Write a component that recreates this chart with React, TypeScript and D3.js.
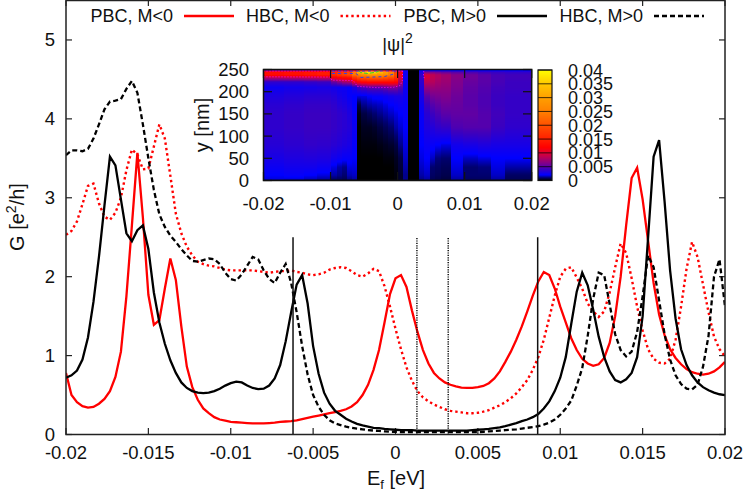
import React from "react";
import * as d3 from "d3";

const W = 747, H = 491;
const FONT = "'Liberation Sans', Arial, sans-serif";

const xTicks = [-0.02, -0.015, -0.01, -0.005, 0, 0.005, 0.01, 0.015, 0.02];
const xTickLabels = ["-0.02", "-0.015", "-0.01", "-0.005", "0", "0.005", "0.01", "0.015", "0.02"];
const yTicks = [0, 1, 2, 3, 4, 5];
const vSolid = [-0.00622, 0.00863];
const vDotted = [0.0013, 0.0032];

const pbcMinus = [
  .78,.5,.41,.36,.34,.35,.39,.45,.55,.73,
  1.05,1.75,2.65,3.57,2.75,1.77,1.39,1.45,1.85,2.23,
  1.96,1.37,.86,.60,.44,.33,.27,.22,.19,.175,
  .16,.155,.15,.145,.14,.14,.14,.145,.15,.16,
  .165,.17,.18,.195,.21,.225,.24,.255,.27,.285,
  .30,.32,.355,.41,.50,.63,.82,1.07,1.42,1.78,
  1.98,2.02,1.87,1.57,1.30,1.07,.90,.78,.71,.66,
  .63,.61,.595,.59,.59,.6,.615,.65,.71,.80,
  .92,1.05,1.2,1.37,1.56,1.76,1.94,2.06,2.02,1.85,
  1.62,1.42,1.22,1.07,.96,.9,.87,.89,.97,1.16,
  1.5,2.0,2.65,3.25,3.38,2.98,2.45,1.92,1.52,1.26,
  1.08,.97,.89,.83,.79,.77,.76,.77,.8,.85,.92,
];
const hbcMinus = [
  2.53,2.58,2.70,2.92,3.15,3.18,2.93,2.76,2.72,2.81,
  3.0,3.35,3.61,3.55,3.36,3.37,3.65,3.93,3.75,3.28,
  2.8,2.55,2.38,2.27,2.19,2.16,2.14,2.13,2.11,2.09,
  2.08,2.08,2.08,2.08,2.08,2.07,2.06,2.05,2.06,2.07,
  2.07,2.08,2.06,2.05,2.03,2.02,2.03,2.05,2.09,2.11,
  2.12,2.11,2.07,2.02,2.0,2.04,2.1,2.07,1.88,1.62,
  1.34,1.08,.85,.68,.55,.47,.42,.38,.35,.32,
  .30,.29,.28,.27,.27,.275,.29,.31,.34,.37,
  .41,.46,.52,.60,.69,.82,.98,1.2,1.48,1.76,
  2.0,2.1,2.12,1.99,1.85,1.66,1.56,1.49,1.56,1.80,
  2.12,2.42,2.3,1.98,1.62,1.32,1.08,.96,.91,.9,
  .96,1.2,1.62,2.1,2.44,2.25,1.9,1.55,1.24,1.08,.99,
];
const pbcPlus = [
  .72,.75,.81,.95,1.23,1.68,2.25,2.9,3.52,3.41,
  2.98,2.55,2.45,2.59,2.65,2.35,1.8,1.42,1.15,.94,
  .78,.66,.59,.55,.53,.525,.53,.55,.58,.62,
  .65,.67,.66,.62,.59,.575,.58,.62,.71,.88,
  1.18,1.55,1.9,2.02,1.66,1.12,.77,.53,.39,.3,
  .25,.2,.165,.135,.115,.10,.085,.08,.07,.065,
  .06,.055,.055,.055,.05,.05,.05,.05,.05,.05,
  .05,.05,.05,.05,.055,.06,.065,.07,.08,.09,
  .105,.125,.145,.17,.19,.22,.26,.33,.42,.55,
  .72,.98,1.4,1.81,2.05,1.89,1.58,1.24,.98,.80,
  .69,.66,.7,.78,.98,1.5,2.5,3.52,3.73,2.95,
  2.08,1.47,1.08,.88,.75,.66,.6,.56,.53,.51,.5,
];
const hbcPlus = [
  3.54,3.6,3.6,3.59,3.62,3.75,3.93,4.12,4.22,4.23,
  4.25,4.38,4.48,4.33,3.93,3.5,3.1,2.79,2.63,2.52,
  2.44,2.35,2.27,2.2,2.19,2.21,2.23,2.22,2.16,2.05,
  1.97,1.95,2.03,2.14,2.25,2.22,2.08,1.97,1.92,2.05,
  2.16,1.92,1.55,1.12,.76,.5,.35,.25,.18,.14,
  .12,.1,.085,.075,.065,.055,.05,.045,.04,.035,
  .035,.03,.03,.03,.03,.03,.03,.03,.03,.03,
  .03,.03,.03,.03,.03,.03,.035,.04,.045,.05,
  .055,.06,.065,.075,.085,.095,.105,.125,.15,.19,
  .25,.33,.43,.62,.84,1.25,1.72,2.05,2.02,1.65,
  1.27,1.07,.99,1.05,1.3,1.75,2.27,2.12,1.7,1.27,
  .95,.75,.64,.58,.57,.63,.86,1.25,2.0,2.22,1.62,
];

const legendLabels = ["PBC, M<0", "HBC, M<0", "PBC, M>0", "HBC, M>0"];

// inset: heat map, values in units of 1e-4
const insetXTicks = [-0.02, -0.01, 0, 0.01, 0.02];
const insetXLabels = ["-0.02", "-0.01", "0", "0.01", "0.02"];
const insetYTicks = [0, 50, 100, 150, 200, 250];
const cbTicks = [0, 0.005, 0.01, 0.015, 0.02, 0.025, 0.03, 0.035, 0.04];
const cbLabels = ["0", "0.005", "0.01", "0.015", "0.02", "0.025", "0.03", "0.035", "0.04"];
const heatRows = [0, 4, 12, 30, 50, 80, 120, 150, 170, 190, 210, 222, 232, 238, 244, 248, 250];
const heatEdges = [-20,-17,-14,-12,-10,-9,-8.3,-7.6,-6.8,-6,-5.4,-4.6,-3.8,-3,-2.2,-1.4,-0.6,0.1,0.8,1.58,3.17,3.96,4.8,5.6,6.4,8,9.8,12,14,16,20];
const heatColumns = [
  [8,18,20,24,28,33,36,36,34,30,24,36,85,130,130,60,35],
  [6,18,22,26,30,35,38,38,36,32,26,36,88,135,135,62,35],
  [5,16,20,26,31,37,40,40,38,34,27,38,90,140,140,65,35],
  [4,14,18,24,30,36,40,40,38,34,28,40,92,145,145,68,35],
  [3,10,14,18,26,34,38,38,36,32,26,55,115,160,160,80,38],
  [3,9,12,14,24,32,36,36,32,28,24,65,125,175,170,90,38],
  [2,8,10,12,22,30,34,34,30,26,24,75,130,185,180,95,40],
  [3,12,15,18,22,28,32,30,26,22,22,80,135,195,190,100,40],
  [4,14,16,18,20,22,24,22,20,20,30,105,175,235,255,125,45],
  [0,0,0,0,0,0,0,2,6,18,40,120,200,260,320,150,50],
  [0,0,0,0,0,1,3,6,12,18,45,125,210,270,360,165,55],
  [0,0,0,0,0,1,3,8,14,20,50,130,220,290,390,175,55],
  [0,0,0,0,0,1,4,10,15,22,50,130,220,290,380,165,55],
  [0,0,0,0,0,2,6,12,16,22,50,130,220,280,340,155,55],
  [0,0,0,0,1,3,8,14,18,24,55,130,210,270,300,140,55],
  [0,0,0,0,1,4,10,16,20,26,60,130,200,250,260,120,50],
  [1,1,1,2,3,6,14,18,22,28,60,125,170,190,190,95,40],
  [3,4,4,5,6,12,17,20,24,28,50,80,100,110,110,65,30],
  [8,12,12,14,16,18,20,22,22,24,24,24,24,24,24,24,20],
  [0,0,0,0,0,0,0,0,0,0,0,0,0,0,0,0,0],
  [3,12,14,16,18,20,22,22,24,28,32,36,38,38,30,20,14],
  [6,14,16,18,20,24,30,34,40,50,70,85,95,95,60,24,16],
  [4,8,9,10,16,22,32,40,48,58,72,82,86,86,60,22,16],
  [4,7,8,9,11,20,36,45,52,60,70,76,80,80,56,22,16],
  [3,6,7,8,10,18,38,50,56,62,68,72,74,74,52,22,16],
  [6,14,16,18,20,26,46,52,54,56,60,62,64,64,48,20,14],
  [5,9,10,10,16,28,48,52,50,50,52,54,56,56,44,20,14],
  [5,9,10,11,18,30,48,48,46,46,48,50,50,50,40,20,14],
  [5,14,16,18,20,28,40,42,40,40,42,44,44,44,38,20,14],
  [4,8,9,14,20,28,36,38,38,38,40,40,42,42,36,20,14],
];
const paletteStops = [0, 10, 20, 40, 60, 80, 100, 120, 150, 200, 250, 300, 350, 400];
const paletteColors = ["#000000","#00006e","#0000ff","#3a00c0","#7a0090","#b00060","#e00030","#ff0000","#ff2000","#ff5000","#ff8000","#ffa000","#ffc800","#ffff00"];

// contour lines of the inset: [E in 1e-3, y in nm]
const contourMagentaLow: [number, number][] = [[-20,233.5],[-10,233],[-9.8,226],[-6.6,225],[-6,212],[-3,209],[-0.6,210],[0.4,214],[0.7,225],[0.75,246]];
const contourMagentaTop: [number, number][] = [[-20,246.5],[0.8,246.5]];
const contourMagentaRight: [number, number][] = [[3.9,246],[3.85,236],[4.0,230]];
const contourBlue: [number, number][] = [[-9.8,241],[-6.2,241],[-5.5,232],[-2,234],[-0.5,240],[-0.3,247]];
const contourBlueTop: [number, number][] = [[-9.8,246],[-0.3,247]];
const contourGreen: [number, number][] = [[-5.8,247],[-5.5,243],[-4.5,241],[-3.2,244],[-2.6,248]];

const x = d3.scaleLinear().domain([-0.02, 0.02]).range([66, 725]);
const y = d3.scaleLinear().domain([0, 5.5]).range([434.5, 0.5]);
const ix = d3.scaleLinear().domain([-20, 20]).range([263.5, 531.7]);
const iy = d3.scaleLinear().domain([0, 250]).range([180.5, 69.5]);
const cy = d3.scaleLinear().domain([0, 0.04]).range([180.5, 70]);
const palette = d3.scaleLinear<string>().domain(paletteStops).range(paletteColors).interpolate(d3.interpolateRgb).clamp(true);

const energyAt = (i: number) => -0.02 + (i * 0.04) / 120;
const curve = d3.line<number>().x((_, i) => x(energyAt(i))).y((d) => y(d));
const contour = d3.line<[number, number]>().x((d) => ix(d[0])).y((d) => iy(d[1]));

const txt = { fontFamily: FONT, fontSize: 18.5, fill: "#111" } as const;
const labelTxt = { fontFamily: FONT, fontSize: 20, fill: "#111" } as const;
const series = [
  { data: pbcMinus, color: "#ff0000", dash: undefined as string | undefined, width: 2.3 },
  { data: hbcMinus, color: "#ff0000", dash: "2.4 3", width: 2.4 },
  { data: pbcPlus, color: "#000000", dash: undefined, width: 2.3 },
  { data: hbcPlus, color: "#000000", dash: "5 3", width: 2.3 },
];
const legendEnds = [173, 329.5, 486, 643];

function Heat() {
  const rects: React.ReactElement[] = [];
  const rowPixels = d3.range(70, 181);
  heatColumns.forEach((col, c) => {
    const val = d3.scaleLinear().domain(heatRows).range(col);
    const x0 = Math.round(ix(heatEdges[c]));
    const x1 = Math.round(ix(heatEdges[c + 1]));
    rowPixels.forEach((py) => {
      rects.push(<rect key={c + "-" + py} x={x0} y={py} width={x1 - x0} height={1} fill={palette(val(iy.invert(py + 0.5)))} />);
    });
  });
  return <g shapeRendering="crispEdges">{rects}</g>;
}

function ColorBar() {
  return (
    <g>
      <g shapeRendering="crispEdges">
        {d3.range(70, 181).map((py) => (
          <rect key={py} x={538} y={py} width={14} height={1} fill={palette(cy.invert(py + 0.5) * 10000)} />
        ))}
      </g>
      {cbTicks.map((t, i) => (
        <g key={t}>
          <line x1={538} x2={552} y1={cy(t)} y2={cy(t)} stroke="#000" strokeOpacity={0.75} strokeWidth={1} />
          <text {...txt} fontSize={18} x={568} y={cy(t) + 6.5}>{cbLabels[i]}</text>
        </g>
      ))}
      <rect x={538} y={70} width={14} height={110.5} fill="none" stroke="#111" strokeWidth={1.2} />
    </g>
  );
}

export default function App() {
  return (
    <svg width={W} height={H} viewBox={`0 0 ${W} ${H}`} style={{ position: "absolute", left: 0, top: 0, background: "#fff" }}>
      {/* main axes ticks */}
      {xTicks.map((t, i) => (
        <g key={t}>
          <line x1={x(t)} x2={x(t)} y1={434.5} y2={428} stroke="#222" strokeWidth={1.2} />
          <line x1={x(t)} x2={x(t)} y1={0.5} y2={6} stroke="#222" strokeWidth={1.2} />
          <text {...txt} x={x(t)} y={458.5} textAnchor="middle">{xTickLabels[i]}</text>
        </g>
      ))}
      {yTicks.map((t) => (
        <g key={t}>
          <line x1={66} x2={72} y1={y(t)} y2={y(t)} stroke="#222" strokeWidth={1.2} />
          <line x1={725} x2={719} y1={y(t)} y2={y(t)} stroke="#222" strokeWidth={1.2} />
          <text {...txt} x={55} y={y(t) + 6.5} textAnchor="end">{t}</text>
        </g>
      ))}
      <text {...labelTxt} x={396} y={485} textAnchor="middle">
        E<tspan dy={4} fontSize={13}>f</tspan><tspan dy={-4}> [eV]</tspan>
      </text>
      <text {...labelTxt} transform="translate(24,217) rotate(-90)" textAnchor="middle">
        G [e<tspan dy={-8} fontSize={14}>2</tspan><tspan dy={8}>/h]</tspan>
      </text>

      {/* curves */}
      <defs>
        <clipPath id="plotClip"><rect x={66} y={0} width={659} height={434.5} /></clipPath>
      </defs>
      <g clipPath="url(#plotClip)" fill="none" strokeLinejoin="miter">
        {series.map((s, i) => (
          <path key={i} d={curve(s.data) || ""} stroke={s.color} strokeWidth={s.width} strokeDasharray={s.dash} />
        ))}
        {vSolid.map((e) => (
          <line key={e} x1={x(e)} x2={x(e)} y1={y(2.5)} y2={434.5} stroke="#111" strokeWidth={1.5} />
        ))}
        {vDotted.map((e) => (
          <line key={e} x1={x(e)} x2={x(e)} y1={y(2.49)} y2={434.5} stroke="#111" strokeWidth={1.5} strokeDasharray="1.2 1.2" />
        ))}
      </g>

      {/* legend */}
      {series.map((s, i) => (
        <g key={i}>
          <text {...txt} fontSize={18} x={legendEnds[i]} y={22} textAnchor="end">{legendLabels[i]}</text>
          <line x1={legendEnds[i] + 11} x2={legendEnds[i] + 61} y1={16} y2={16} stroke={s.color} strokeWidth={s.width} strokeDasharray={s.dash} />
        </g>
      ))}

      <rect x={66} y={0.5} width={659} height={434} fill="none" stroke="#222" strokeWidth={1.5} />

      {/* inset */}
      <text {...txt} x={397.5} y={51} textAnchor="middle">
        |ψ|<tspan dy={-8} fontSize={14}>2</tspan>
      </text>
      <Heat />
      <g fill="none" strokeWidth={1}>
        <path d={contour(contourMagentaLow) || ""} stroke="#ff00ff" strokeDasharray="1 2" />
        <path d={contour(contourMagentaTop) || ""} stroke="#ff00ff" strokeDasharray="1 2" />
        <path d={contour(contourMagentaRight) || ""} stroke="#ff00ff" strokeDasharray="1 2" />
        <path d={contour(contourBlue) || ""} stroke="#3040f0" strokeDasharray="3 3" />
        <path d={contour(contourBlueTop) || ""} stroke="#3040f0" strokeDasharray="3 3" />
        <path d={contour(contourGreen) || ""} stroke="#30d030" strokeDasharray="4 2" />
      </g>
      {insetXTicks.map((t, i) => (
        <g key={t}>
          <line x1={ix(t * 1000)} x2={ix(t * 1000)} y1={180.5} y2={172} stroke="#111" strokeWidth={1.2} />
          <line x1={ix(t * 1000)} x2={ix(t * 1000)} y1={69.5} y2={78} stroke="#111" strokeWidth={1.2} />
          <text {...txt} x={ix(t * 1000)} y={209.5} textAnchor="middle">{insetXLabels[i]}</text>
        </g>
      ))}
      {insetYTicks.map((t) => (
        <g key={t}>
          <line x1={263.5} x2={272} y1={iy(t)} y2={iy(t)} stroke="#111" strokeWidth={1.2} />
          <line x1={531.7} x2={523} y1={iy(t)} y2={iy(t)} stroke="#111" strokeWidth={1.2} />
          <text {...txt} x={249} y={iy(t) + 6.5} textAnchor="end">{t}</text>
        </g>
      ))}
      <rect x={263.5} y={69.5} width={268.2} height={111} fill="none" stroke="#111" strokeWidth={1.5} />
      <text {...labelTxt} transform="translate(209,125) rotate(-90)" textAnchor="middle">y [nm]</text>
      <ColorBar />
    </svg>
  );
}
